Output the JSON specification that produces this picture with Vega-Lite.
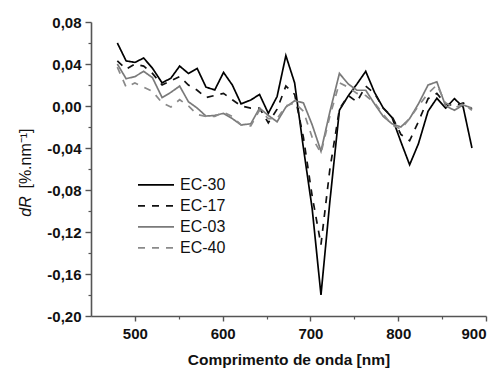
{
  "$schema": "https://vega.github.io/schema/vega-lite/v6.json",
  "width": 395,
  "height": 294,
  "autosize": {"type": "none"},
  "padding": {"left": 91, "top": 22, "right": 15, "bottom": 53},
  "background": "white",
  "config": {
    "view": {"stroke": null},
    "font": "Liberation Sans"
  },
  "resolve": {"axis": {"x": "independent", "y": "independent"}},
  "layer": [
    {
      "data": {"values": [
        {"w":480,"s":"EC-30","v":0.060},{"w":490,"s":"EC-30","v":0.043},{"w":500,"s":"EC-30","v":0.0415},{"w":510,"s":"EC-30","v":0.0457},{"w":520,"s":"EC-30","v":0.036},{"w":531,"s":"EC-30","v":0.022},{"w":541,"s":"EC-30","v":0.0265},{"w":551,"s":"EC-30","v":0.038},{"w":561,"s":"EC-30","v":0.031},{"w":571,"s":"EC-30","v":0.0357},{"w":581,"s":"EC-30","v":0.018},{"w":591,"s":"EC-30","v":0.0153},{"w":601,"s":"EC-30","v":0.032},{"w":611,"s":"EC-30","v":0.020},{"w":621,"s":"EC-30","v":0.002},{"w":632,"s":"EC-30","v":0.0057},{"w":642,"s":"EC-30","v":0.011},{"w":652,"s":"EC-30","v":-0.007},{"w":662,"s":"EC-30","v":0.009},{"w":672,"s":"EC-30","v":0.048},{"w":682,"s":"EC-30","v":0.022},{"w":692,"s":"EC-30","v":-0.040},{"w":702,"s":"EC-30","v":-0.098},{"w":712,"s":"EC-30","v":-0.180},{"w":722,"s":"EC-30","v":-0.092},{"w":733,"s":"EC-30","v":-0.004},{"w":743,"s":"EC-30","v":0.0096},{"w":753,"s":"EC-30","v":0.021},{"w":763,"s":"EC-30","v":0.033},{"w":773,"s":"EC-30","v":0.013},{"w":783,"s":"EC-30","v":-0.002},{"w":793,"s":"EC-30","v":-0.011},{"w":803,"s":"EC-30","v":-0.034},{"w":813,"s":"EC-30","v":-0.056},{"w":823,"s":"EC-30","v":-0.036},{"w":834,"s":"EC-30","v":-0.005},{"w":844,"s":"EC-30","v":0.0074},{"w":854,"s":"EC-30","v":-0.002},{"w":864,"s":"EC-30","v":0.007},{"w":874,"s":"EC-30","v":-0.001},{"w":884,"s":"EC-30","v":-0.040},
        {"w":480,"s":"EC-17","v":0.043},{"w":490,"s":"EC-17","v":0.035},{"w":500,"s":"EC-17","v":0.040},{"w":510,"s":"EC-17","v":0.038},{"w":520,"s":"EC-17","v":0.031},{"w":531,"s":"EC-17","v":0.020},{"w":541,"s":"EC-17","v":0.024},{"w":551,"s":"EC-17","v":0.028},{"w":561,"s":"EC-17","v":0.020},{"w":571,"s":"EC-17","v":0.015},{"w":581,"s":"EC-17","v":0.008},{"w":591,"s":"EC-17","v":0.010},{"w":601,"s":"EC-17","v":0.012},{"w":611,"s":"EC-17","v":0.006},{"w":621,"s":"EC-17","v":0.000},{"w":632,"s":"EC-17","v":-0.002},{"w":642,"s":"EC-17","v":-0.002},{"w":652,"s":"EC-17","v":-0.016},{"w":662,"s":"EC-17","v":-0.003},{"w":672,"s":"EC-17","v":0.019},{"w":682,"s":"EC-17","v":0.011},{"w":692,"s":"EC-17","v":-0.030},{"w":702,"s":"EC-17","v":-0.086},{"w":712,"s":"EC-17","v":-0.132},{"w":722,"s":"EC-17","v":-0.061},{"w":733,"s":"EC-17","v":-0.003},{"w":743,"s":"EC-17","v":0.010},{"w":753,"s":"EC-17","v":0.004},{"w":763,"s":"EC-17","v":0.019},{"w":773,"s":"EC-17","v":0.012},{"w":783,"s":"EC-17","v":-0.002},{"w":793,"s":"EC-17","v":-0.010},{"w":803,"s":"EC-17","v":-0.027},{"w":813,"s":"EC-17","v":-0.033},{"w":823,"s":"EC-17","v":-0.015},{"w":834,"s":"EC-17","v":0.007},{"w":844,"s":"EC-17","v":0.012},{"w":854,"s":"EC-17","v":0.002},{"w":864,"s":"EC-17","v":0.000},{"w":874,"s":"EC-17","v":0.003},{"w":884,"s":"EC-17","v":-0.003},
        {"w":480,"s":"EC-03","v":0.040},{"w":490,"s":"EC-03","v":0.026},{"w":500,"s":"EC-03","v":0.028},{"w":510,"s":"EC-03","v":0.033},{"w":520,"s":"EC-03","v":0.027},{"w":531,"s":"EC-03","v":0.008},{"w":541,"s":"EC-03","v":0.013},{"w":551,"s":"EC-03","v":0.019},{"w":561,"s":"EC-03","v":0.004},{"w":571,"s":"EC-03","v":-0.002},{"w":581,"s":"EC-03","v":-0.0096},{"w":591,"s":"EC-03","v":-0.009},{"w":601,"s":"EC-03","v":-0.007},{"w":611,"s":"EC-03","v":-0.012},{"w":621,"s":"EC-03","v":-0.018},{"w":632,"s":"EC-03","v":-0.017},{"w":642,"s":"EC-03","v":-0.002},{"w":652,"s":"EC-03","v":-0.009},{"w":662,"s":"EC-03","v":-0.015},{"w":672,"s":"EC-03","v":-0.001},{"w":682,"s":"EC-03","v":0.005},{"w":692,"s":"EC-03","v":0.003},{"w":702,"s":"EC-03","v":-0.018},{"w":712,"s":"EC-03","v":-0.043},{"w":722,"s":"EC-03","v":-0.006},{"w":733,"s":"EC-03","v":0.031},{"w":743,"s":"EC-03","v":0.021},{"w":753,"s":"EC-03","v":0.015},{"w":763,"s":"EC-03","v":0.015},{"w":773,"s":"EC-03","v":0.002},{"w":783,"s":"EC-03","v":-0.010},{"w":793,"s":"EC-03","v":-0.017},{"w":803,"s":"EC-03","v":-0.020},{"w":813,"s":"EC-03","v":-0.012},{"w":823,"s":"EC-03","v":0.002},{"w":834,"s":"EC-03","v":0.020},{"w":844,"s":"EC-03","v":0.023},{"w":854,"s":"EC-03","v":0.000},{"w":864,"s":"EC-03","v":-0.004},{"w":874,"s":"EC-03","v":0.001},{"w":884,"s":"EC-03","v":-0.002},
        {"w":480,"s":"EC-40","v":0.037},{"w":490,"s":"EC-40","v":0.018},{"w":500,"s":"EC-40","v":0.022},{"w":510,"s":"EC-40","v":0.018},{"w":520,"s":"EC-40","v":0.014},{"w":531,"s":"EC-40","v":0.003},{"w":541,"s":"EC-40","v":-0.001},{"w":551,"s":"EC-40","v":0.006},{"w":561,"s":"EC-40","v":0.000},{"w":571,"s":"EC-40","v":-0.008},{"w":581,"s":"EC-40","v":-0.010},{"w":591,"s":"EC-40","v":-0.010},{"w":601,"s":"EC-40","v":-0.006},{"w":611,"s":"EC-40","v":-0.010},{"w":621,"s":"EC-40","v":-0.018},{"w":632,"s":"EC-40","v":-0.019},{"w":642,"s":"EC-40","v":-0.004},{"w":652,"s":"EC-40","v":-0.012},{"w":662,"s":"EC-40","v":-0.012},{"w":672,"s":"EC-40","v":0.000},{"w":682,"s":"EC-40","v":0.003},{"w":692,"s":"EC-40","v":-0.005},{"w":702,"s":"EC-40","v":-0.030},{"w":712,"s":"EC-40","v":-0.045},{"w":722,"s":"EC-40","v":-0.010},{"w":733,"s":"EC-40","v":0.022},{"w":743,"s":"EC-40","v":0.018},{"w":753,"s":"EC-40","v":0.012},{"w":763,"s":"EC-40","v":0.010},{"w":773,"s":"EC-40","v":0.003},{"w":783,"s":"EC-40","v":-0.008},{"w":793,"s":"EC-40","v":-0.018},{"w":803,"s":"EC-40","v":-0.022},{"w":813,"s":"EC-40","v":-0.012},{"w":823,"s":"EC-40","v":0.000},{"w":834,"s":"EC-40","v":0.012},{"w":844,"s":"EC-40","v":0.020},{"w":854,"s":"EC-40","v":0.003},{"w":864,"s":"EC-40","v":-0.002},{"w":874,"s":"EC-40","v":0.002},{"w":884,"s":"EC-40","v":-0.004}
      ]},
      "mark": {"type": "line", "strokeWidth": 1.7},
      "encoding": {
        "x": {
          "field": "w", "type": "quantitative",
          "scale": {"domain": [450, 900], "nice": false, "zero": false},
          "axis": {
            "orient": "bottom",
            "values": [500, 600, 700, 800, 900],
            "title": "Comprimento de onda [nm]",
            "titleFont": "Liberation Sans", "titleFontSize": 15.5, "titleFontWeight": "bold", "titleColor": "#111",
            "titlePadding": 11,
            "labelFont": "Liberation Sans", "labelFontSize": 15, "labelFontWeight": "bold", "labelColor": "#111",
            "labelPadding": 5,
            "grid": false,
            "domainColor": "#555", "domainWidth": 1.6,
            "tickColor": "#555", "tickWidth": 1.4, "tickSize": 5
          }
        },
        "y": {
          "field": "v", "type": "quantitative",
          "scale": {"domain": [-0.2, 0.08], "nice": false, "zero": false},
          "axis": {
            "orient": "left",
            "values": [-0.2, -0.16, -0.12, -0.08, -0.04, 0, 0.04, 0.08],
            "labelExpr": "replace(replace(format(datum.value, '.2f'), '.', ','), '\u2212', '-')",
            "title": "dR",
            "titleFont": "Liberation Sans", "titleFontSize": 16, "titleFontWeight": "normal", "titleFontStyle": "italic", "titleColor": "#111",
            "titleAngle": -90, "titleX": -66, "titleY": 184, "titleAlign": "center", "titleBaseline": "middle",
            "labelFont": "Liberation Sans", "labelFontSize": 15, "labelFontWeight": "bold", "labelColor": "#111",
            "labelPadding": 4,
            "grid": false,
            "domainColor": "#555", "domainWidth": 1.6,
            "tickColor": "#555", "tickWidth": 1.4, "tickSize": 6
          }
        },
        "color": {
          "field": "s", "type": "nominal",
          "scale": {"domain": ["EC-30", "EC-17", "EC-03", "EC-40"], "range": ["#000000", "#111111", "#7a7a7a", "#8a8a8a"]},
          "legend": {
            "title": null,
            "orient": "none",
            "legendX": 46,
            "legendY": 155,
            "direction": "vertical",
            "padding": 0,
            "symbolType": "stroke",
            "symbolSize": 1296,
            "symbolStrokeWidth": 1.7,
            "clipHeight": 15.7,
            "rowPadding": 4,
            "labelOffset": 5,
            "labelFont": "Liberation Sans",
            "labelFontSize": 16,
            "labelColor": "#111"
          }
        },
        "strokeDash": {
          "field": "s", "type": "nominal",
          "scale": {"domain": ["EC-30", "EC-17", "EC-03", "EC-40"], "range": [[1, 0], [7, 7], [1, 0], [7, 7]]},
          "legend": {
            "title": null,
            "orient": "none",
            "legendX": 46,
            "legendY": 155,
            "direction": "vertical",
            "padding": 0,
            "symbolType": "stroke",
            "symbolSize": 1296,
            "symbolStrokeWidth": 1.7,
            "clipHeight": 15.7,
            "rowPadding": 4,
            "labelOffset": 5,
            "labelFont": "Liberation Sans",
            "labelFontSize": 16,
            "labelColor": "#111"
          }
        }
      }
    },
    {
      "mark": {"type": "text", "text": "(b)", "font": "Liberation Sans", "fontSize": 15, "color": "#111", "align": "center", "baseline": "middle"},
      "encoding": {
        "x": {
          "datum": 471.5, "type": "quantitative",
          "axis": {
            "orient": "bottom",
            "values": [550, 650, 750, 850],
            "labels": false, "domain": false, "grid": false,
            "title": null,
            "tickColor": "#555", "tickWidth": 1.2, "tickSize": 3
          }
        },
        "y": {
          "datum": 0.076, "type": "quantitative",
          "axis": {
            "orient": "left",
            "values": [-0.18, -0.14, -0.1, -0.06, -0.02, 0.02, 0.06],
            "labels": false, "domain": false, "grid": false,
            "title": "[%.nm\u207b\u00b9]",
            "titleFont": "Liberation Sans", "titleFontSize": 16, "titleFontWeight": "normal", "titleColor": "#111",
            "titleAngle": -90, "titleX": -66, "titleY": 136, "titleAlign": "center", "titleBaseline": "middle",
            "tickColor": "#555", "tickWidth": 1.2, "tickSize": 3
          }
        }
      }
    }
  ]
}
